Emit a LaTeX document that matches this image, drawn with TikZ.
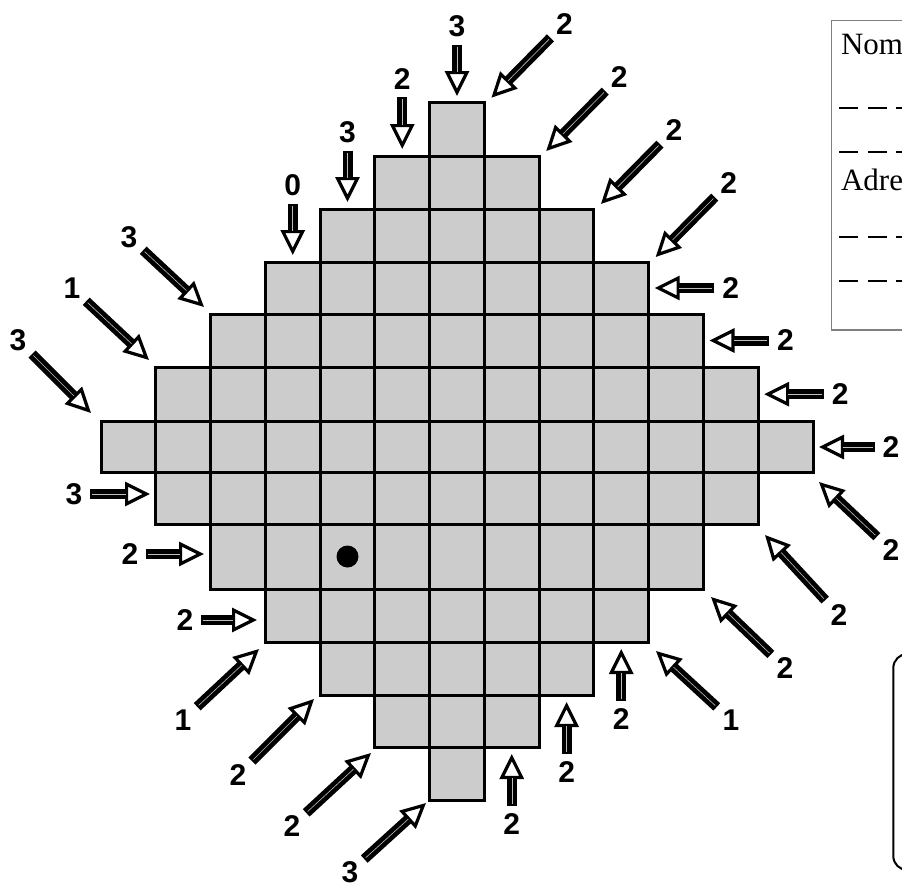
\documentclass[tikz,border=0pt]{standalone}
\usepackage{fontspec}
\setmainfont{Liberation Serif}
\setsansfont{Liberation Sans}
\usetikzlibrary{arrows.meta}
\definecolor{cellgrey}{RGB}{204,204,204}
\definecolor{framegrey}{RGB}{128,128,128}
\tikzset{
    cell/.style={
        draw,
        fill=cellgrey,
        line width=1.5pt
    },
    numlabel/.style={
        font=\sffamily\bfseries\fontsize{15}{18}\selectfont,
        inner sep=0pt,
        outer sep=0pt
    },
    hollowarrow/.style={
        line width=5pt,
        shorten <=4pt,
        -{Triangle[open, length=12.5pt, width=12pt, line width=1.6pt]}
    },
    hollowcore/.style={
        black!25,
        line width=0.3pt,
        shorten <=5pt,
        shorten >=12pt
    },
    formtext/.style={
        font=\fontsize{15.5}{18}\selectfont,
        anchor=base west,
        inner sep=0pt
    },
    formline/.style={
        line width=1pt,
        dash pattern=on 9.5pt off 4.75pt
    }
}

\begin{document}
\begin{tikzpicture}[x=0.5pt, y=-0.5pt]

\useasboundingbox (0,0) rectangle (902,890);
\clip (0,0) rectangle (902,890);

% Diamond of cells, row by row
\foreach \ya/\yb/\ca/\cb in {102.7/156/6/6, 156/209/5/7, 209/262/4/8,
    262/314/3/9, 314/367/2/10, 367/421.5/1/11, 421.5/472.5/0/12,
    472.5/524/1/11, 524/589/2/10, 589/642/3/9, 642/695/4/8,
    695/747/5/7, 747/800/6/6}
  \foreach \c in {\ca,...,\cb}
    \draw[cell] ({101+54.77*\c},\ya) rectangle ({155.77+54.77*\c},\yb);

% Marker
\fill (347.5,556.5) circle (5.5pt);

% Numbered arrows round the border
\foreach \n/\lx/\ly/\tx/\ty [count=\i] in {
    3/457/26/457/96, 2/402.3/79/402.3/149, 3/347.5/132/347.5/202,
    0/292.7/185/292.7/255,
    2/564.4/23.7/491.4/97.7, 2/619.2/77/546.2/151, 2/673.9/130/600.9/204,
    2/728.7/183/655.7/257,
    2/730.7/288/654.7/288, 2/785.5/340.5/709.5/340.5,
    2/840.2/394.2/764.2/394.2, 2/891/447/819/447,
    2/891/550/819/482, 2/839/615/765/535, 2/785/668/711/597,
    1/731/720/656/651,
    2/621.3/719/621.3/649, 2/566.6/772/566.6/702, 2/511.8/824/511.8/754,
    3/350/872/426/803, 2/292/826/371/753, 2/238/775/314/699,
    1/183/720/259/649,
    3/74/494/150/494, 2/130/554/204/554, 2/185/620/257/620,
    3/18/340/91/413, 1/72/288/149/360, 3/129/237/204/307}{
  \node[numlabel] (lab\i) at (\lx,\ly) {\n};
  \coordinate (tip\i) at (\tx,\ty);
  \draw[hollowarrow] (lab\i) -- (tip\i);
  \draw[hollowcore] (lab\i) -- (tip\i);
}

% Form box, top right
\draw[framegrey, line width=0.6pt] (831.7,20.7) rectangle (960,330);
\node[formtext] (nom) at (840.7,54) {Nom};
\draw[formline] (839.3,108) -- (960,108);
\draw[formline] (839.3,151.7) -- (960,151.7);
\node[formtext] (adresse) at (840.7,190.7) {Adresse};
\draw[formline] (839.3,236.7) -- (960,236.7);
\draw[formline] (839.3,280.7) -- (960,280.7);

% Rounded box, bottom right
\draw[line width=1pt, rounded corners=7pt] (893.3,654) rectangle (980,870);

\end{tikzpicture}
\end{document}
